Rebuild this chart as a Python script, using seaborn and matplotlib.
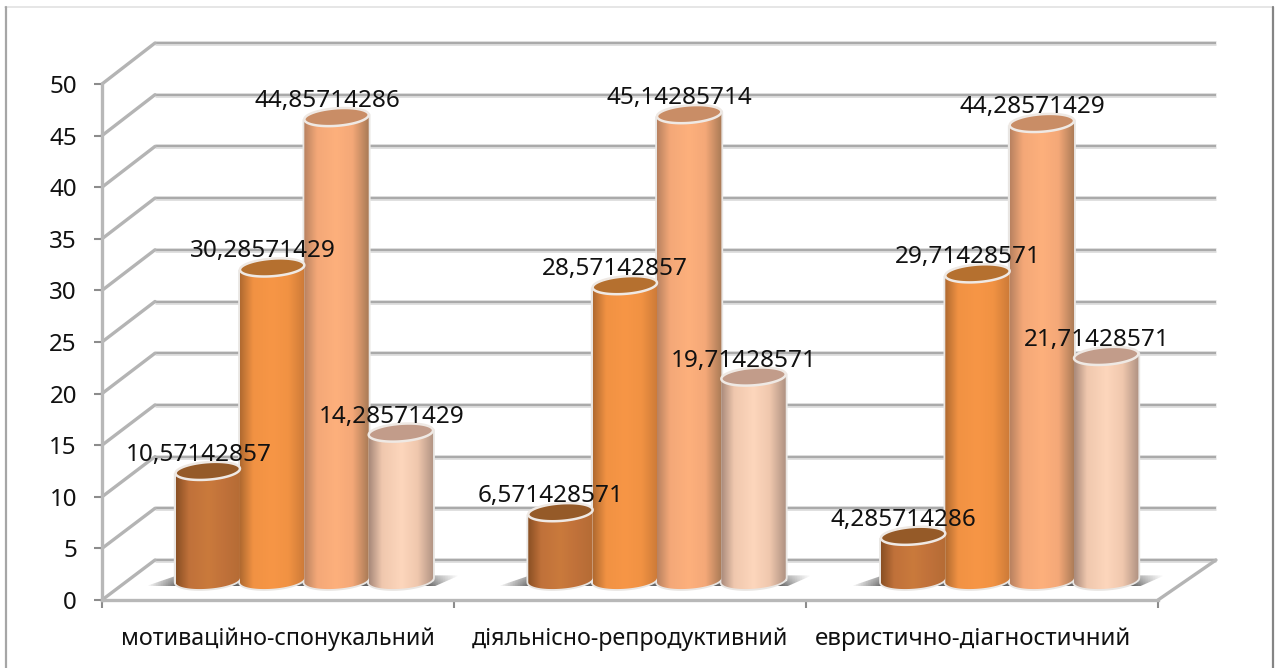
import numpy as np
import pandas as pd
import matplotlib
matplotlib.use('Agg')
import matplotlib.pyplot as plt
import seaborn as sns
from matplotlib.colors import LinearSegmentedColormap
from matplotlib.lines import Line2D
from matplotlib.patches import ConnectionPatch, PathPatch, Polygon
from matplotlib.path import Path

# Values
categories = ['мотиваційно-спонукальний', 'діяльнісно-репродуктивний', 'евристично-діагностичний']
series_names = ['s1', 's2', 's3', 's4']
s1_values = [10.57142857, 6.571428571, 4.285714286]
s2_values = [30.28571429, 28.57142857, 29.71428571]
s3_values = [44.85714286, 45.14285714, 44.28571429]
s4_values = [14.28571429, 19.71428571, 21.71428571]
y_ticks = list(range(0, 55, 5))

# Bar colours: dark left edge, bright middle, darker right edge, cap
bar_colors = {
    's1': ['#8a5024', '#c0713a', '#ca7a3c', '#b56c35', '#955a28'],
    's2': ['#b06a30', '#f19243', '#f79646', '#cc7a38', '#b5702f'],
    's3': ['#b98260', '#f4a878', '#fdb07c', '#a97a56', '#c98d66'],
    's4': ['#a98a7a', '#f0c8ae', '#fdd6bc', '#b09282', '#c29c8a'],
}

df = pd.DataFrame({
    'category': categories * 4,
    'series': np.repeat(series_names, 3),
    'value': s1_values + s2_values + s3_values + s4_values,
})

sns.set_theme(style='white')
plt.rcParams['font.family'] = ['Noto Sans', 'DejaVu Sans']

W, H = 1280, 668
fig = plt.figure(figsize=(W / 100, H / 100), dpi=100, facecolor='white')


def px_axes(left, top, right, bottom, z):
    a = fig.add_axes([left / W, 1 - bottom / H, (right - left) / W, (bottom - top) / H], zorder=z)
    a.patch.set_visible(False)
    return a


# Back wall with the gridlines
back = px_axes(155, 43, 1216, 560, 1)
back.set_xlim(0, 1)
back.set_ylim(0, 50)
back.set_xticks([])
back.set_yticks(y_ticks)
back.tick_params(left=False, labelleft=False)
for s in back.spines.values():
    s.set_visible(False)
for v in y_ticks:
    back.axhline(v, color='#dcdcdc', lw=3.4, clip_on=False, zorder=1, solid_capstyle='butt')
    back.axhline(v, color='#aaaaaa', lw=1.5, clip_on=False, zorder=2, solid_capstyle='butt')

# Front axis: value scale, category ticks and labels
front = px_axes(102, 84, 1158, 600, 2)
front.set_xlim(0, 3)
front.set_ylim(0, 50)
front.set_yticks(y_ticks)
front.set_xticks([0, 1, 2, 3])
front.set_xticks([0.5, 1.5, 2.475], minor=True)
front.set_xticklabels(['', '', '', ''])
front.set_xticklabels(categories, minor=True)
front.tick_params(axis='y', length=6, width=1.5, color='#8c8c8c', pad=12, labelsize=17.4, labelcolor='#111111', left=True)
front.tick_params(axis='x', which='major', length=6, width=1.5, color='#8c8c8c', bottom=True)
front.tick_params(axis='x', which='minor', length=0, pad=19.5, labelsize=16.75, labelcolor='#111111')
front.get_xticklabels(minor=True)[2].set_fontsize(17.4)
for side in ['top', 'right']:
    front.spines[side].set_visible(False)
for side in ['left', 'bottom']:
    front.spines[side].set_color('#b8b8b8')
    front.spines[side].set_linewidth(2.4)

# Diagonal side wall and floor edges
for v in y_ticks:
    fig.add_artist(ConnectionPatch(xyA=(0, v), coordsA=front.transData, xyB=(0, v), coordsB=back.transData,
                                   color='#b4b4b4', lw=2.4, zorder=1.5))
fig.add_artist(ConnectionPatch(xyA=(3, 0), coordsA=front.transData, xyB=(1, 0), coordsB=back.transData,
                               color='#b4b4b4', lw=2.4, zorder=1.5))

# Cylinders start from plain seaborn bars
PX_UNIT = 10.32
BASE = 580
ax = px_axes(128, BASE - 55 * PX_UNIT, 128 + 1058, BASE + 3 * PX_UNIT, 3)
sns.barplot(data=df, x='category', y='value', hue='series', order=categories, hue_order=series_names,
            palette={k: c[2] for k, c in bar_colors.items()}, width=0.73, gap=0, saturation=1,
            legend=False, ax=ax)
CAP = 1.7    # ellipse height, in value units
TILT = 0.22  # right side of the ellipse sits higher than the left

# Soft floor shadow under each group of bars
shadow = np.zeros((16, 128, 4))
shadow[..., :3] = 0.38
fade = np.clip(np.minimum(np.linspace(0, 1, 128), np.linspace(1, 0, 128)) * 10, 0, 1)
shadow[..., 3] = fade[None, :] * np.linspace(0.55, 1, 16)[:, None]
for i in range(len(categories)):
    sh = ax.imshow(shadow, extent=[i - 0.45, i + 0.44, -0.6, 0.45], origin='upper', aspect='auto', zorder=0.5)
    sh.set_clip_path(Polygon([(i - 0.45, -0.6), (i + 0.37, -0.6), (i + 0.44, 0.45), (i - 0.36, 0.45)],
                             transform=ax.transData))

for name, container in zip(series_names, ax.containers):
    cols = bar_colors[name]
    cmap = LinearSegmentedColormap.from_list(
        name, [(0, cols[0]), (0.2, cols[1]), (0.5, cols[2]), (0.75, cols[1]), (1, cols[3])])
    for bar, value in zip(container, container.datavalues):
        x, w = bar.get_x(), bar.get_width()
        cx = x + w / 2
        # lower half of the bottom ellipse
        t = np.linspace(np.pi, 2 * np.pi, 40)
        xs = cx + w / 2 * np.cos(t)
        ys = CAP / 2 * np.sin(t) + TILT * np.cos(t)
        verts = [(x, value - TILT)] + list(zip(xs, ys)) + [(x + w, value + TILT), (x, value - TILT)]
        ax.add_patch(PathPatch(Path(verts), facecolor='none', edgecolor='#e9e6e3', lw=2.6, zorder=3,
                               joinstyle='round'))
        grad = ax.imshow(np.linspace(0, 1, 128)[None, :], cmap=cmap, extent=[x, x + w, -2, value + 1],
                         aspect='auto', zorder=3.1)
        grad.set_clip_path(PathPatch(Path(verts), transform=ax.transData))
        # tilted top ellipse
        t = np.linspace(0, 2 * np.pi, 80)
        cap_pts = np.column_stack([cx + w / 2 * np.cos(t), value + CAP / 2 * np.sin(t) + TILT * np.cos(t)])
        ax.add_patch(Polygon(cap_pts, closed=True, facecolor=cols[4], edgecolor='#efe9e4', lw=1.8, zorder=3.2))
        txt = f'{value:.10g}'.replace('.', ',')
        ax.annotate(txt, xy=(cx, value), xytext=(-6.8, 11.5), textcoords='offset points', ha='center',
                    va='center', fontsize=17.5, color='#111111', zorder=5, annotation_clip=False)

ax.set_xlim(-0.5, 2.5)
ax.set_ylim(-3, 55)
ax.axis('off')

# Chart frame
fig.add_artist(Line2D([5 / W, 1273 / W], [1 - 7 / H, 1 - 7 / H], color='#e2e2e2', lw=1.2, zorder=0))
fig.add_artist(Line2D([5.5 / W, 5.5 / W], [0, 1 - 7 / H], color='#a6a6a6', lw=1.6, zorder=0))
fig.add_artist(Line2D([1273 / W, 1273 / W], [0, 1 - 7 / H], color='#858585', lw=1.6, zorder=0))

fig.savefig('out.png', dpi=100)
